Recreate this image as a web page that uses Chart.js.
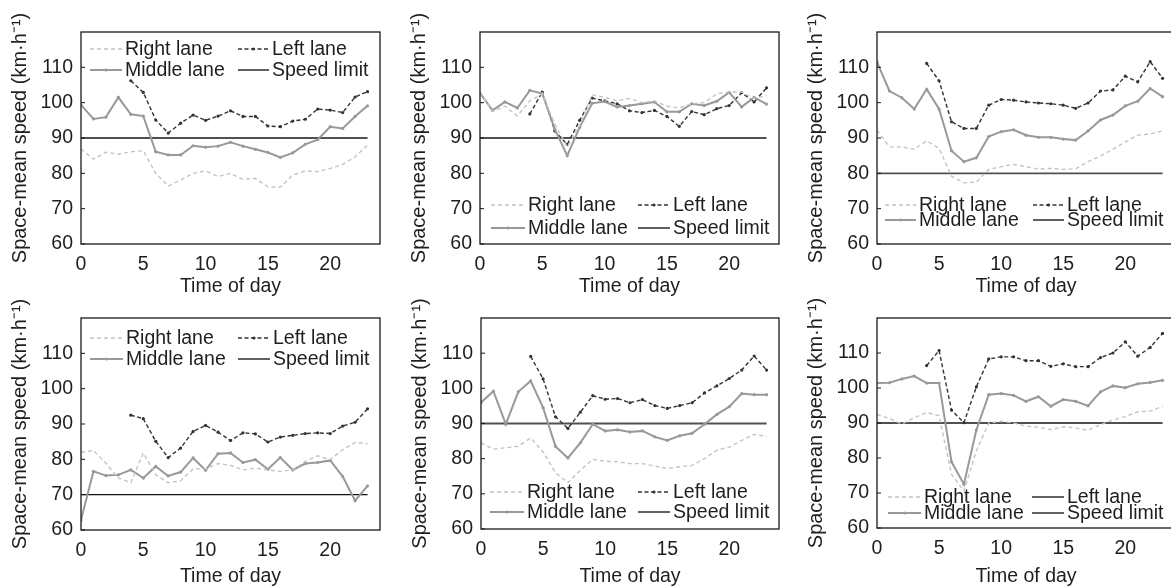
<!DOCTYPE html>
<html>
<head>
<meta charset="utf-8">
<script src="https://cdn.jsdelivr.net/npm/chart.js@4"></script>
<style>
  html, body { margin: 0; padding: 0; background: #fff; overflow: hidden; width: 1171px; height: 586px; }
  canvas { position: absolute; }
</style>
</head>
<body>
<canvas id="c1"></canvas>
<canvas id="c2"></canvas>
<canvas id="c3"></canvas>
<canvas id="c4"></canvas>
<canvas id="c5"></canvas>
<canvas id="c6"></canvas>
<script>
// hours of the day (x axis)
const hours = [0,1,2,3,4,5,6,7,8,9,10,11,12,13,14,15,16,17,18,19,20,21,22,23];
const xTicks = [0, 5, 10, 15, 20];
const yTicks = [60, 70, 80, 90, 100, 110];
const laneNames = ["Right lane", "Left lane", "Middle lane", "Speed limit"];

// panel 1
const p1Right  = [86.9,84.0,86.0,85.4,86.1,86.4,80.0,76.4,78.1,80.0,80.7,79.1,80.0,78.3,78.6,76.2,76.1,79.5,80.7,80.5,81.4,82.5,84.7,88.0];
const p1Middle = [99.4,95.4,95.9,101.5,96.7,96.2,86.1,85.2,85.2,87.8,87.4,87.7,88.8,87.7,86.8,85.9,84.5,85.8,88.2,89.5,93.2,92.7,96.1,99.1];
const p1Left   = [null,null,null,null,106.2,102.9,95.1,91.4,94.2,96.5,95.0,96.2,97.7,96.1,96.1,93.4,93.2,94.8,95.3,98.2,97.9,97.2,101.6,103.1];
// panel 2
const p2Right  = [103.0,97.5,99.0,96.2,100.5,102.5,94.0,87.5,93.5,102.2,101.5,100.5,101.2,100.0,100.5,99.0,98.5,99.7,100.0,102.5,103.0,103.0,101.2,102.0];
const p2Middle = [102.7,97.8,100.2,98.5,103.5,102.6,92.5,85.0,93.0,99.8,100.3,98.8,99.2,99.7,100.2,97.4,97.4,99.7,99.2,100.4,102.9,98.8,101.5,99.6];
const p2Left   = [null,null,null,null,96.8,103.0,92.0,88.2,95.0,101.3,100.5,99.7,97.7,97.2,97.8,96.1,93.3,97.5,96.6,98.3,99.2,102.8,100.2,104.2];
// panel 3
const p3Right  = [92.2,87.5,87.5,86.8,89.2,87.1,79.2,77.3,77.5,81.1,81.9,82.5,81.9,81.2,81.4,81.1,81.3,83.3,84.9,86.8,88.9,90.8,91.1,92.0];
const p3Middle = [111.5,103.3,101.4,98.2,103.8,98.2,86.4,83.3,84.4,90.4,91.8,92.3,90.8,90.2,90.2,89.7,89.4,92.0,95.1,96.5,99.1,100.4,104.0,101.7];
const p3Left   = [null,null,null,null,111.1,106.2,94.6,92.7,92.7,99.3,100.9,100.7,100.2,99.9,99.7,99.3,98.4,99.9,103.3,103.6,107.5,105.9,111.6,106.9];
// panel 4
const p4Right  = [82.0,82.5,78.9,74.7,73.4,81.8,75.6,73.4,73.9,77.3,77.3,78.8,78.3,77.0,77.5,77.0,76.6,77.0,79.4,81.0,79.9,82.7,84.8,84.4];
const p4Middle = [62.8,76.6,75.4,75.6,77.0,74.7,78.0,75.3,76.4,80.4,76.9,81.6,81.8,79.1,79.9,77.2,80.5,77.0,78.8,79.1,79.7,75.2,68.3,72.5];
const p4Left   = [null,null,null,null,92.5,91.5,85.1,80.5,83.2,87.9,89.6,87.7,85.3,87.5,87.2,84.9,86.3,86.8,87.3,87.5,87.3,89.4,90.5,94.3];
// panel 5
const p5Right  = [84.5,82.7,83.1,83.5,85.9,81.9,76.0,73.2,76.7,79.8,79.3,79.1,78.6,78.6,77.9,77.2,77.7,78.1,80.0,82.4,83.3,85.2,86.9,86.3];
const p5Middle = [96.0,99.2,89.8,99.0,102.1,94.5,83.5,80.2,84.5,89.8,87.9,88.2,87.6,87.9,86.2,85.2,86.5,87.2,89.8,92.6,94.8,98.5,98.2,98.2];
const p5Left   = [null,null,null,null,109.1,102.7,91.9,88.6,93.2,97.9,96.9,97.1,95.9,96.8,95.1,94.3,95.1,95.9,98.7,100.7,102.8,105.2,109.2,105.2];
// panel 6
const p6Right  = [92.4,91.3,89.7,91.5,93.0,92.1,75.3,70.6,82.0,90.0,90.5,90.0,89.1,88.8,88.1,88.9,88.6,87.9,89.5,90.9,91.8,93.2,93.4,94.8];
const p6Middle = [101.4,101.5,102.6,103.4,101.4,101.4,78.9,72.5,88.0,98.1,98.4,97.9,96.2,97.5,94.8,96.7,96.2,94.9,98.9,100.6,100.1,101.2,101.6,102.2];
const p6Left   = [null,null,null,null,106.4,110.7,93.7,90.1,100.3,108.3,108.9,108.9,107.8,107.8,106.2,106.9,106.1,106.1,108.7,110.0,113.2,109.1,111.6,115.6];

const speedLimits = [90, 90, 80, 70, 90, 90];
const rightData  = [p1Right, p2Right, p3Right, p4Right, p5Right, p6Right];
const middleData = [p1Middle, p2Middle, p3Middle, p4Middle, p5Middle, p6Middle];
const leftData   = [p1Left, p2Left, p3Left, p4Left, p5Left, p6Left];

const FONT = "'Liberation Sans', Arial, sans-serif";
const TXT = "#1e1e1e";

// line looks
const styles = {
  "Right lane":  {color: "#c4c4c4", width: 1.4, dash: [4, 3], point: 0},
  "Middle lane": {color: "#999999", width: 2, dash: [], point: 1.6},
  "Left lane":   {color: "#333333", width: 1.4, dash: [4, 2.5], point: 1.6},
  "Speed limit": {color: "#505050", width: 1.8, dash: [], point: 0}
};

// where each plot box sits on the page, and legend placement
const panels = [
  {plot: [81, 32, 380, 244],   xH: 55, leg: "top",    rows: [17, 38],  cols: [9, 44, 157, 191]},
  {plot: [480, 32, 779, 244],  xH: 55, leg: "bottom", rows: [-39, -16], cols: [11, 48, 158, 193]},
  {plot: [877, 32, 1175, 244], xH: 55, leg: "bottom", rows: [-39, -24], cols: [8, 42, 156, 190]},
  {plot: [81, 318, 380, 530],  xH: 59, leg: "top",    rows: [20, 41],  cols: [9, 45, 157, 192]},
  {plot: [481, 318, 779, 529], xH: 60, leg: "bottom", rows: [-37, -17], cols: [9, 46, 157, 192]},
  {plot: [877, 318, 1175, 528], xH: 61, leg: "bottom", rows: [-31, -15], cols: [11, 47, 155, 190], solidLeft: true}
];
const PAD_TOP = 20;

function toPoints(vals) {
  return hours.map((h, i) => ({x: h, y: vals[i]}));
}

// legend drawn inside the plot box
const insideLegend = {
  id: "insideLegend",
  afterDatasetsDraw(chart, args, opts) {
    const {ctx, chartArea: a} = chart;
    const base = opts.leg === "top" ? a.top : a.bottom;
    ctx.save();
    ctx.font = "19.5px " + FONT;
    ctx.textBaseline = "middle";
    ctx.fillStyle = TXT;
    laneNames.forEach((name, k) => {
      const row = Math.floor(k / 2), col = k % 2;
      const y = base + opts.rows[row];
      const x0 = a.left + opts.cols[col * 2];
      const xt = a.left + opts.cols[col * 2 + 1];
      let st = styles[name];
      if (name === "Left lane" && opts.solidLeft) st = styles["Speed limit"];
      ctx.strokeStyle = st.color;
      ctx.lineWidth = st.width;
      ctx.setLineDash(st.dash);
      ctx.beginPath();
      ctx.moveTo(x0, y);
      ctx.lineTo(xt - 3, y);
      ctx.stroke();
      ctx.setLineDash([]);
      if (st.point && !(name === "Left lane" && opts.solidLeft)) {
        ctx.fillStyle = st.color;
        ctx.beginPath();
        ctx.arc((x0 + xt - 3) / 2, y, st.point, 0, Math.PI * 2);
        ctx.fill();
      }
      ctx.fillStyle = TXT;
      ctx.fillText(name, xt, y + 1);
    });
    ctx.restore();
  }
};

// frame around plot box and small inward ticks
const frame = {
  id: "frame",
  afterDraw(chart) {
    const {ctx, chartArea: a, scales} = chart;
    ctx.save();
    ctx.strokeStyle = "#1a1a1a";
    ctx.lineWidth = 1.3;
    ctx.strokeRect(a.left, a.top, a.right - a.left, a.bottom - a.top);
    ctx.lineWidth = 1;
    yTicks.forEach(v => {
      const y = scales.y.getPixelForValue(v);
      ctx.beginPath();
      ctx.moveTo(a.left, y);
      ctx.lineTo(a.left + 4, y);
      ctx.stroke();
    });
    ctx.restore();
  }
};

function makeChart(idx) {
  const p = panels[idx];
  const [pl, pt, pr, pb] = p.plot;
  const cv = document.getElementById("c" + (idx + 1));
  const left = pl - 81, top = pt - PAD_TOP;
  cv.width = pr - left + 6;
  cv.height = pb - top + p.xH;
  cv.style.left = left + "px";
  cv.style.top = top + "px";

  const mk = (name, vals) => {
    const st = styles[name];
    return {
      label: name,
      data: toPoints(vals),
      borderColor: st.color,
      backgroundColor: st.color,
      borderWidth: st.width,
      borderDash: st.dash,
      pointRadius: st.point,
      pointBorderWidth: 0,
      pointBackgroundColor: st.color,
      tension: 0,
      spanGaps: false
    };
  };

  const limit = speedLimits[idx];
  const datasets = [
    mk("Right lane", rightData[idx]),
    mk("Middle lane", middleData[idx]),
    mk("Left lane", leftData[idx]),
    {
      label: "Speed limit",
      data: [{x: hours[0], y: limit}, {x: hours[hours.length - 1], y: limit}],
      borderColor: idx === 3 ? "#111" : styles["Speed limit"].color,
      borderWidth: idx === 3 ? 1.2 : styles["Speed limit"].width,
      pointRadius: 0
    }
  ];

  new Chart(cv, {
    type: "line",
    data: {datasets: datasets},
    options: {
      responsive: false,
      animation: false,
      devicePixelRatio: 1,
      layout: {padding: {top: PAD_TOP, right: 6, left: 0, bottom: 0}},
      plugins: {
        legend: {display: false},
        tooltip: {enabled: false},
        insideLegend: {leg: p.leg, rows: p.rows, cols: p.cols, solidLeft: !!p.solidLeft}
      },
      scales: {
        x: {
          type: "linear",
          min: 0,
          max: 24,
          afterFit: s => { s.height = p.xH; s.paddingLeft = 0; s.paddingRight = 0; },
          grid: {display: false, drawTicks: false},
          border: {display: false},
          ticks: {
            stepSize: 5,
            padding: 9,
            maxRotation: 0,
            color: TXT,
            font: {family: FONT, size: 19.5},
            callback: v => xTicks.includes(v) ? String(v) : ""
          },
          title: {
            display: true,
            text: "Time of day",
            color: TXT,
            font: {family: FONT, size: 19.5},
            padding: {top: 0, bottom: 0.5}
          }
        },
        y: {
          min: 60,
          max: 120,
          afterFit: s => { s.width = 81; s.paddingTop = 0; s.paddingBottom = 0; },
          grid: {display: false, drawTicks: false},
          border: {display: false},
          ticks: {
            stepSize: 10,
            padding: 8,
            color: TXT,
            font: {family: FONT, size: 19.5},
            callback: v => yTicks.includes(v) ? String(v) : ""
          },
          title: {
            display: true,
            text: "Space-mean speed (km·h⁻¹)",
            color: TXT,
            font: {family: FONT, size: 20},
            padding: {top: 8, bottom: 0}
          }
        }
      }
    },
    plugins: [insideLegend, frame]
  });
}

for (let i = 0; i < panels.length; i++) makeChart(i);
</script>
</body>
</html>
